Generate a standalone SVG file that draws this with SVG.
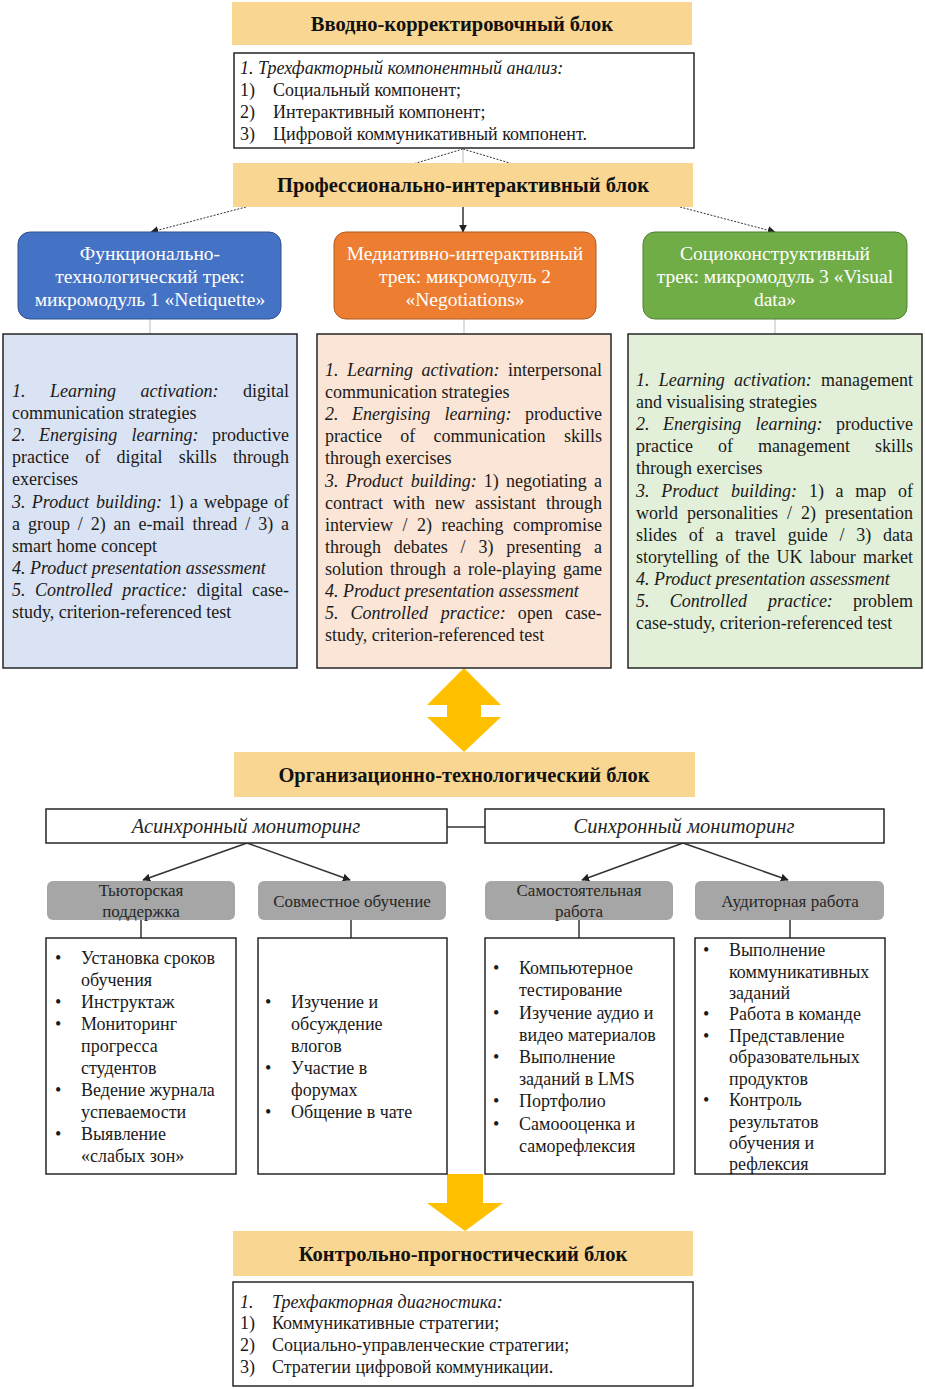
<svg xmlns="http://www.w3.org/2000/svg" width="925" height="1389" viewBox="0 0 925 1389">
<defs>
<marker id="ah" viewBox="0 0 10 10" refX="9" refY="5" markerWidth="8" markerHeight="8" markerUnits="userSpaceOnUse" orient="auto"><path d="M0,0 L10,5 L0,10 z" fill="#222"/></marker>
<style>
text{font-family:"Liberation Serif","Times New Roman",serif;fill:#1a1a1a}
.hdr{fill:#f9d692}
.ht{font-size:20.5px;font-weight:bold;text-anchor:middle;fill:#111}
.bx{fill:#fff;stroke:#262626;stroke-width:1.5}
.t18{font-size:18px}
.it{font-style:italic}
.trk{font-size:19.5px;fill:#fff;text-anchor:middle}
.gr{fill:#a6a6a6}
.gt{font-size:17px;text-anchor:middle;fill:#262626}
.mt{font-size:20.5px;font-style:italic;text-anchor:middle;fill:#262626}
.dash{stroke:#333;stroke-width:1;stroke-dasharray:2,1.5;fill:none}
.ln{stroke:#333;stroke-width:1.5;fill:none}
.lg{stroke:#bbb;stroke-width:1;fill:none}
.yel{fill:#ffc000}
</style>
</defs>
<rect width="925" height="1389" fill="#fff"/>

<g id="connectors">
<line class="dash" x1="463" y1="149" x2="413" y2="164"/>
<line class="dash" x1="463" y1="149" x2="513" y2="164"/>
<line class="lg" x1="463" y1="149" x2="463" y2="164"/>
<line class="dash" x1="246" y1="207" x2="151" y2="232" marker-end="url(#ah)"/>
<line class="ln" x1="463" y1="207" x2="463" y2="232" stroke-width="1" marker-end="url(#ah)"/>
<line class="dash" x1="680" y1="207" x2="775" y2="232" marker-end="url(#ah)"/>
<line class="lg" x1="150" y1="319" x2="150" y2="334"/>
<line class="lg" x1="464" y1="319" x2="464" y2="334"/>
<line class="lg" x1="775" y1="319" x2="775" y2="334"/>
<path class="yel" d="M464,668 L501,705 L481,705 L481,717 L501,717 L464,752 L427,717 L447,717 L447,705 L427,705 Z"/>
<line class="ln" x1="447" y1="827" x2="485" y2="827"/>
<line class="ln" x1="247" y1="843" x2="143" y2="880" marker-end="url(#ah)"/>
<line class="ln" x1="247" y1="843" x2="350" y2="880" marker-end="url(#ah)"/>
<line class="ln" x1="683" y1="843" x2="582" y2="880" marker-end="url(#ah)"/>
<line class="ln" x1="683" y1="843" x2="788" y2="880" marker-end="url(#ah)"/>
<line class="ln" x1="141" y1="920" x2="141" y2="938"/>
<line class="ln" x1="351" y1="920" x2="351" y2="938"/>
<line class="ln" x1="579" y1="920" x2="579" y2="938"/>
<line class="ln" x1="790" y1="920" x2="790" y2="938"/>
<path class="yel" d="M447,1174 L483,1174 L483,1203 L503,1203 L465,1231 L427,1203 L447,1203 Z"/>
</g>

<g id="block1-header">
<rect class="hdr" x="232" y="2" width="460" height="43"/>
<text class="ht" x="462" y="31">Вводно-корректировочный блок</text>
</g>

<g id="block1-box">
<rect class="bx" x="234" y="53" width="460" height="95"/>
<text class="t18 it" x="240" y="74">1. Трехфакторный компонентный анализ:</text>
<text class="t18" x="240" y="96">1)</text><text class="t18" x="273" y="96">Социальный компонент;</text>
<text class="t18" x="240" y="118">2)</text><text class="t18" x="273" y="118">Интерактивный компонент;</text>
<text class="t18" x="240" y="140">3)</text><text class="t18" x="273" y="140">Цифровой коммуникативный компонент.</text>
</g>

<g id="block2-header">
<rect class="hdr" x="233" y="163" width="460" height="44"/>
<text class="ht" x="463" y="192">Профессионально-интерактивный блок</text>
</g>

<g id="track1">
<rect x="18" y="232" width="263" height="87" rx="12" fill="#4472c4" stroke="#2f528f"/>
<text class="trk" x="150" y="260">Функционально-</text>
<text class="trk" x="150" y="283">технологический трек:</text>
<text class="trk" x="150" y="306">микромодуль 1 «Netiquette»</text>
</g>
<g id="track2">
<rect x="334" y="232" width="262" height="87" rx="12" fill="#ed7d31" stroke="#ae5a21"/>
<text class="trk" x="465" y="260">Медиативно-интерактивный</text>
<text class="trk" x="465" y="283">трек: микромодуль 2</text>
<text class="trk" x="465" y="306">«Negotiations»</text>
</g>
<g id="track3">
<rect x="643" y="232" width="264" height="87" rx="12" fill="#70ad47" stroke="#507e32"/>
<text class="trk" x="775" y="260">Социоконструктивный</text>
<text class="trk" x="775" y="283">трек: микромодуль 3 «Visual</text>
<text class="trk" x="775" y="306">data»</text>
</g>

<g id="detail1" class="t18">
<rect x="3" y="334" width="294" height="334" fill="#dae3f3" stroke="#262626" stroke-width="1.5"/>
<text y="397"><tspan class="it" x="12">1.</tspan><tspan class="it" x="50">Learning</tspan><tspan class="it" x="140.5">activation:</tspan><tspan x="243">digital</tspan></text>
<text x="12" y="419.1">communication strategies</text>
<text y="441.2"><tspan class="it" x="12">2.</tspan><tspan class="it" x="39">Energising</tspan><tspan class="it" x="131.5">learning:</tspan><tspan x="212">productive</tspan></text>
<text y="463.3"><tspan x="12">practice</tspan><tspan x="85.2">of</tspan><tspan x="116.4">digital</tspan><tspan x="178.7">skills</tspan><tspan x="233">through</tspan></text>
<text x="12" y="485.4">exercises</text>
<text y="507.5"><tspan class="it" x="12">3.</tspan><tspan class="it" x="31.8">Product</tspan><tspan class="it" x="96.1">building:</tspan><tspan x="168.4">1)</tspan><tspan x="189.7">a</tspan><tspan x="204">webpage</tspan><tspan x="274">of</tspan></text>
<text y="529.6"><tspan x="12">a</tspan><tspan x="27.9">group</tspan><tspan x="77.8">/</tspan><tspan x="90.7">2)</tspan><tspan x="113.6">an</tspan><tspan x="138.5">e-mail</tspan><tspan x="192.4">thread</tspan><tspan x="245.3">/</tspan><tspan x="258.2">3)</tspan><tspan x="281">a</tspan></text>
<text x="12" y="551.7">smart home concept</text>
<text class="it" x="12" y="573.8">4. Product presentation assessment</text>
<text y="595.9"><tspan class="it" x="12">5.</tspan><tspan class="it" x="34.9">Controlled</tspan><tspan class="it" x="122.3">practice:</tspan><tspan x="196.7">digital</tspan><tspan x="252">case-</tspan></text>
<text x="12" y="618">study, criterion-referenced test</text>
</g>

<g id="detail2" class="t18">
<rect x="317" y="334" width="294" height="334" fill="#fbe5d6" stroke="#262626" stroke-width="1.5"/>
<text y="376"><tspan class="it" x="325">1.</tspan><tspan class="it" x="347">Learning</tspan><tspan class="it" x="421.5">activation:</tspan><tspan x="508">interpersonal</tspan></text>
<text x="325" y="398.1">communication strategies</text>
<text y="420.2"><tspan class="it" x="325">2.</tspan><tspan class="it" x="352">Energising</tspan><tspan class="it" x="444.5">learning:</tspan><tspan x="525">productive</tspan></text>
<text y="442.3"><tspan x="325">practice</tspan><tspan x="400.3">of</tspan><tspan x="433.6">communication</tspan><tspan x="563.9">skills</tspan></text>
<text x="325" y="464.4">through exercises</text>
<text y="486.5"><tspan class="it" x="325">3.</tspan><tspan class="it" x="345.6">Product</tspan><tspan class="it" x="410.7">building:</tspan><tspan x="483.8">1)</tspan><tspan x="505.9">negotiating</tspan><tspan x="594">a</tspan></text>
<text y="508.6"><tspan x="325">contract</tspan><tspan x="393">with</tspan><tspan x="435">new</tspan><tspan x="475">assistant</tspan><tspan x="546">through</tspan></text>
<text y="530.7"><tspan x="325">interview</tspan><tspan x="402.5">/</tspan><tspan x="417">2)</tspan><tspan x="441.5">reaching</tspan><tspan x="513">compromise</tspan></text>
<text y="552.8"><tspan x="325">through</tspan><tspan x="393.8">debates</tspan><tspan x="460.6">/</tspan><tspan x="478.4">3)</tspan><tspan x="506.2">presenting</tspan><tspan x="594">a</tspan></text>
<text y="574.9"><tspan x="325">solution</tspan><tspan x="390">through</tspan><tspan x="453">a</tspan><tspan x="468">role-playing</tspan><tspan x="563">game</tspan></text>
<text class="it" x="325" y="597">4. Product presentation assessment</text>
<text y="619.1"><tspan class="it" x="325">5.</tspan><tspan class="it" x="350.6">Controlled</tspan><tspan class="it" x="440.7">practice:</tspan><tspan x="517.8">open</tspan><tspan x="564.9">case-</tspan></text>
<text x="325" y="641.2">study, criterion-referenced test</text>
</g>

<g id="detail3" class="t18">
<rect x="628" y="334" width="294" height="334" fill="#e2f0d9" stroke="#262626" stroke-width="1.5"/>
<text y="386"><tspan class="it" x="636">1.</tspan><tspan class="it" x="658.7">Learning</tspan><tspan class="it" x="733.9">activation:</tspan><tspan x="821.1">management</tspan></text>
<text x="636" y="408.1">and visualising strategies</text>
<text y="430.2"><tspan class="it" x="636">2.</tspan><tspan class="it" x="663">Energising</tspan><tspan class="it" x="755.5">learning:</tspan><tspan x="836">productive</tspan></text>
<text y="452.3"><tspan x="636">practice</tspan><tspan x="718">of</tspan><tspan x="758">management</tspan><tspan x="875">skills</tspan></text>
<text x="636" y="474.4">through exercises</text>
<text y="496.5"><tspan class="it" x="636">3.</tspan><tspan class="it" x="661.3">Product</tspan><tspan class="it" x="731.1">building:</tspan><tspan x="808.9">1)</tspan><tspan x="835.6">a</tspan><tspan x="855.3">map</tspan><tspan x="898">of</tspan></text>
<text y="518.6"><tspan x="636">world</tspan><tspan x="687">personalities</tspan><tspan x="787">/</tspan><tspan x="801">2)</tspan><tspan x="825">presentation</tspan></text>
<text y="540.7"><tspan x="636">slides</tspan><tspan x="688.7">of</tspan><tspan x="715.4">a</tspan><tspan x="735.1">travel</tspan><tspan x="787.8">guide</tspan><tspan x="839.5">/</tspan><tspan x="856.2">3)</tspan><tspan x="882.9">data</tspan></text>
<text y="562.8"><tspan x="636">storytelling</tspan><tspan x="725.2">of</tspan><tspan x="747.4">the</tspan><tspan x="776.6">UK</tspan><tspan x="809.8">labour</tspan><tspan x="863">market</tspan></text>
<text class="it" x="636" y="584.9">4. Product presentation assessment</text>
<text y="607"><tspan class="it" x="636">5.</tspan><tspan class="it" x="669.7">Controlled</tspan><tspan class="it" x="767.9">practice:</tspan><tspan x="853.1">problem</tspan></text>
<text x="636" y="629.1">case-study, criterion-referenced test</text>
</g>

<g id="block3-header">
<rect class="hdr" x="234" y="752" width="461" height="45"/>
<text class="ht" x="464" y="782">Организационно-технологический блок</text>
</g>

<g id="async">
<rect class="bx" x="46" y="809" width="401" height="34"/>
<text class="mt" x="246" y="833">Асинхронный мониторинг</text>
</g>
<g id="sync">
<rect class="bx" x="485" y="809" width="399" height="34"/>
<text class="mt" x="684" y="833">Синхронный мониторинг</text>
</g>

<g id="tutor">
<rect class="gr" x="47" y="881" width="188" height="39" rx="6"/>
<text class="gt" x="141" y="896">Тьюторская</text>
<text class="gt" x="141" y="917">поддержка</text>
</g>
<g id="collab">
<rect class="gr" x="258" y="881" width="188" height="39" rx="6"/>
<text class="gt" x="352" y="907">Совместное обучение</text>
</g>
<g id="self">
<rect class="gr" x="485" y="881" width="188" height="39" rx="6"/>
<text class="gt" x="579" y="896">Самостоятельная</text>
<text class="gt" x="579" y="917">работа</text>
</g>
<g id="class">
<rect class="gr" x="695" y="881" width="189" height="39" rx="6"/>
<text class="gt" x="790" y="907">Аудиторная работа</text>
</g>

<g id="list1" class="t18">
<rect class="bx" x="46" y="938" width="190" height="236"/>
<text x="55" y="964">•</text><text x="81" y="964">Установка сроков</text>
<text x="81" y="986">обучения</text>
<text x="55" y="1008">•</text><text x="81" y="1008">Инструктаж</text>
<text x="55" y="1030">•</text><text x="81" y="1030">Мониторинг</text>
<text x="81" y="1052">прогресса</text>
<text x="81" y="1074">студентов</text>
<text x="55" y="1096">•</text><text x="81" y="1096">Ведение журнала</text>
<text x="81" y="1118">успеваемости</text>
<text x="55" y="1140">•</text><text x="81" y="1140">Выявление</text>
<text x="81" y="1162">«слабых зон»</text>
</g>

<g id="list2" class="t18">
<rect class="bx" x="258" y="938" width="189" height="236"/>
<text x="265" y="1008">•</text><text x="291" y="1008">Изучение и</text>
<text x="291" y="1030">обсуждение</text>
<text x="291" y="1052">влогов</text>
<text x="265" y="1074">•</text><text x="291" y="1074">Участие в</text>
<text x="291" y="1096">форумах</text>
<text x="265" y="1118">•</text><text x="291" y="1118">Общение в чате</text>
</g>

<g id="list3" class="t18">
<rect class="bx" x="485" y="938" width="189" height="236"/>
<text x="493" y="974">•</text><text x="519" y="974">Компьютерное</text>
<text x="519" y="996">тестирование</text>
<text x="493" y="1019">•</text><text x="519" y="1019">Изучение аудио и</text>
<text x="519" y="1041">видео материалов</text>
<text x="493" y="1063">•</text><text x="519" y="1063">Выполнение</text>
<text x="519" y="1085">заданий в LMS</text>
<text x="493" y="1107">•</text><text x="519" y="1107">Портфолио</text>
<text x="493" y="1130">•</text><text x="519" y="1130">Самоооценка и</text>
<text x="519" y="1152">саморефлексия</text>
</g>

<g id="list4" class="t18">
<rect class="bx" x="695" y="938" width="190" height="236"/>
<text x="703" y="956">•</text><text x="729" y="956">Выполнение</text>
<text x="729" y="977.5">коммуникативных</text>
<text x="729" y="999">заданий</text>
<text x="703" y="1020">•</text><text x="729" y="1020">Работа в команде</text>
<text x="703" y="1042">•</text><text x="729" y="1042">Представление</text>
<text x="729" y="1063">образовательных</text>
<text x="729" y="1084.5">продуктов</text>
<text x="703" y="1106">•</text><text x="729" y="1106">Контроль</text>
<text x="729" y="1128">результатов</text>
<text x="729" y="1149">обучения и</text>
<text x="729" y="1170">рефлексия</text>
</g>

<g id="block4-header">
<rect class="hdr" x="233" y="1231" width="460" height="45"/>
<text class="ht" x="463" y="1261">Контрольно-прогностический блок</text>
</g>

<g id="block4-box">
<rect class="bx" x="233" y="1282" width="460" height="104"/>
<text class="t18 it" x="240" y="1308">1.</text><text class="t18 it" x="272" y="1308">Трехфакторная диагностика:</text>
<text class="t18" x="240" y="1329">1)</text><text class="t18" x="272" y="1329">Коммуникативные стратегии;</text>
<text class="t18" x="240" y="1351">2)</text><text class="t18" x="272" y="1351">Социально-управленческие стратегии;</text>
<text class="t18" x="240" y="1373">3)</text><text class="t18" x="272" y="1373">Стратегии цифровой коммуникации.</text>
</g>
</svg>
